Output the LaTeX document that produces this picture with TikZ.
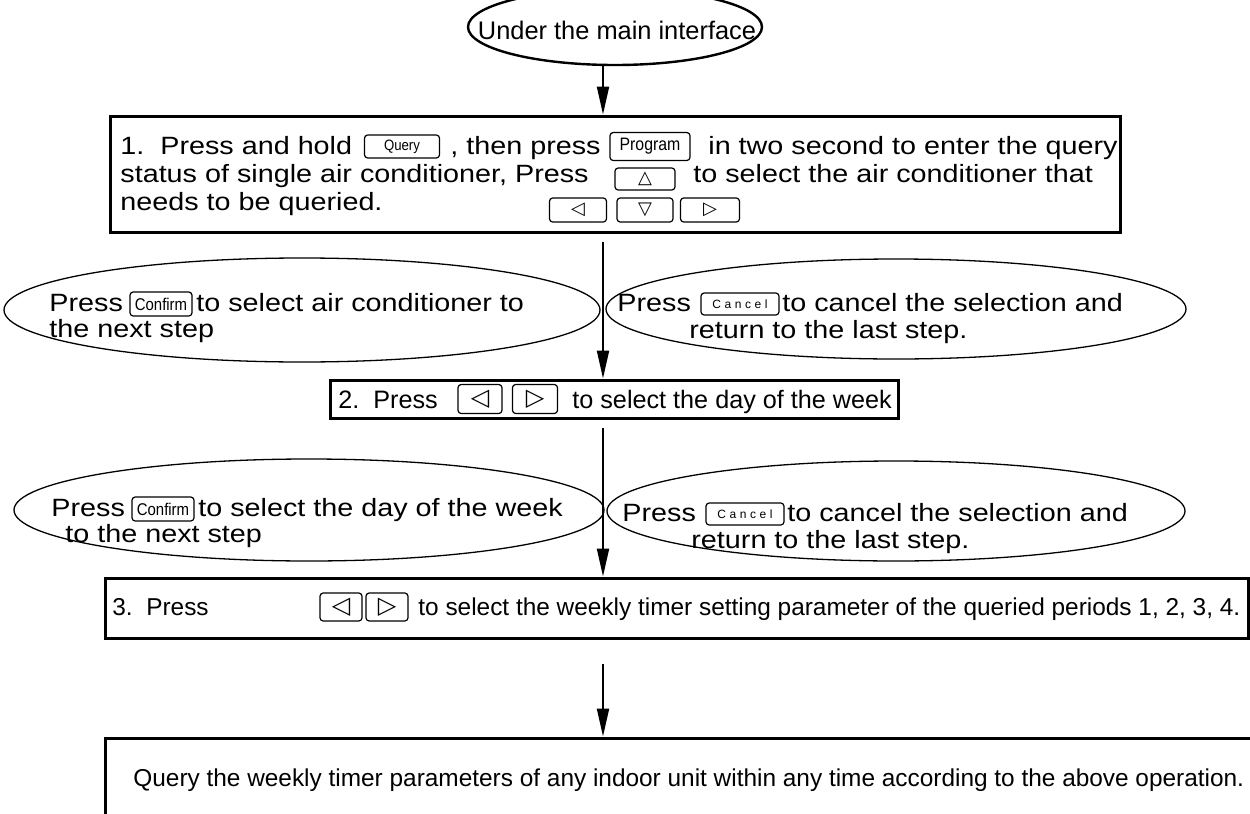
\documentclass[tikz,border=0pt]{standalone}
\usepackage{fontspec}
\setmainfont{Liberation Sans}
\newfontfamily\wideF[FakeStretch=1.15]{Liberation Sans}
\newfontfamily\condF[FakeStretch=0.88]{Liberation Sans}
\newfontfamily\symF{DejaVu Sans}
\usetikzlibrary{arrows.meta,shapes.geometric}
\begin{document}
\begin{tikzpicture}[x=0.5pt,y=-0.5pt,
  ell/.style={draw, ellipse, inner sep=0pt, line width=0.65pt},
  boxS/.style={draw, rectangle, inner sep=0pt, line width=1.5pt},
  btn/.style={draw, rounded corners=1.6pt, line width=0.6pt, inner sep=0pt},
  symbtn/.style={btn, font=\symF\fontsize{9}{10}\selectfont},
  cfbtn/.style={btn, minimum width=31pt, minimum height=12pt, font=\condF\fontsize{8.5}{9}\selectfont},
  cxbtn/.style={btn, minimum width=39pt, minimum height=11pt, font=\fontsize{6}{7}\selectfont\addfontfeature{LetterSpace=30}},
  wt/.style={anchor=base west, inner sep=0pt, font=\wideF\fontsize{12.5}{15}\selectfont},
  mt/.style={anchor=base west, inner sep=0pt, font=\fontsize{12.6}{15}\selectfont},
  nt/.style={anchor=base west, inner sep=0pt, font=\fontsize{12.2}{15}\selectfont},
  arr/.style={line width=1pt, -{Triangle[length=14pt,width=6pt]}},
]
\useasboundingbox (0,0) rectangle (1250,814);
\coordinate (sp) at (603,0);

% top ellipse
\node[ell, line width=1.2pt, minimum width=147pt, minimum height=38pt] (top) at (615,27) {};
\node[inner sep=0pt, font=\fontsize{12.7}{15}\selectfont] (toptxt) at (617,30) {Under the main interface};

% box 1
\node[boxS, minimum width=505pt, minimum height=58pt] (b1) at (615,174) {};
\node[wt] (t1a) at (120,154) {1.\ \ Press and hold};
\node[btn, minimum width=37.5pt, minimum height=11.5pt, font=\condF\fontsize{7.5}{8}\selectfont] (kq) at (402,146.5) {Query};
\node[wt] (t1b) at (450,154) {, then press};
\node[btn, minimum width=40pt, minimum height=14pt, font=\condF\fontsize{9}{10}\selectfont] (kp) at (650,146.5) {Program};
\node[wt] (t1c) at (708,154) {in two second to enter the query};
\node[wt] (t2a) at (120,182) {status of single air conditioner, Press};
\node[symbtn, minimum width=30pt, minimum height=11pt] (ku) at (645,179) {△};
\node[wt] (t2b) at (693,182) {to select the air conditioner that};
\node[wt] (t3a) at (120,210) {needs to be queried.};
\node[symbtn, minimum width=28.5pt, minimum height=12pt] (kl) at (578,210) {◁};
\node[symbtn, minimum width=28pt, minimum height=12pt] (kd) at (645,210) {▽};
\node[symbtn, minimum width=29.5pt, minimum height=12pt] (kr) at (710,210) {▷};

% ellipses row 1
\node[ell, minimum width=298pt, minimum height=52pt] (l1) at (302,310) {};
\node[ell, minimum width=290pt, minimum height=50pt] (r1) at (896,309) {};
\node[wt] (l1a) at (49,311) {Press};
\node[cfbtn] (kc1) at (161,304) {Confirm};
\node[wt] (l1b) at (196,311) {to select air conditioner to};
\node[wt] (l1c) at (49,337) {the next step};
\node[wt] (r1a) at (617,311) {Press};
\node[cxbtn] (kx1) at (740,304) {Cancel};
\node[wt] (r1b) at (782,311) {to cancel the selection and};
\node[wt] (r1c) at (689,338) {return to the last step.};

% box 2
\node[boxS, minimum width=284pt, minimum height=19pt] (b2) at (614,399) {};
\node[mt] (t4a) at (338,408) {2.\ \ Press};
\node[symbtn, minimum width=22pt, minimum height=14.5pt, font=\symF\fontsize{12}{12}\selectfont] (kl2) at (480,399) {◁};
\node[symbtn, minimum width=22.5pt, minimum height=14.5pt, font=\symF\fontsize{12}{12}\selectfont] (kr2) at (535,399) {▷};
\node[mt] (t4b) at (572,408) {to select the day of the week};

% ellipses row 2
\node[ell, minimum width=295pt, minimum height=51pt] (l2) at (309,510) {};
\node[ell, minimum width=289pt, minimum height=50pt] (r2) at (896,511) {};
\node[wt] (l2a) at (51,516) {Press};
\node[cfbtn] (kc2) at (163,509) {Confirm};
\node[wt] (l2b) at (198,516) {to select the day of the week};
\node[wt] (l2c) at (65,542) {to the next step};
\node[wt] (r2a) at (622,521) {Press};
\node[cxbtn] (kx2) at (745,514) {Cancel};
\node[wt] (r2b) at (787,521) {to cancel the selection and};
\node[wt] (r2c) at (691,548) {return to the last step.};

% box 3
\node[boxS, minimum width=571.5pt, minimum height=30pt] (b3) at (676.5,608) {};
\node[nt] (t5a) at (112,615) {3.\ \ Press};
\node[symbtn, minimum width=21pt, minimum height=14pt, font=\symF\fontsize{12}{12}\selectfont] (kl3) at (341,607) {◁};
\node[symbtn, minimum width=21pt, minimum height=14pt, font=\symF\fontsize{12}{12}\selectfont] (kr3) at (387,607) {▷};
\node[nt] (t5b) at (418,615) {to select the weekly timer setting parameter of the queried periods 1, 2, 3, 4.};

% box 4
\node[boxS, minimum width=582.5pt, minimum height=56pt] (b4) at (687.5,794) {};
\node[nt] (t6) at (133,786) {Query the weekly timer parameters of any indoor unit within any time according to the above operation.};

% connectors
\draw[arr] (top.south -| sp) -- (b1.north -| sp);
\draw[arr, shorten <=4pt] (b1.south -| sp) -- (b2.north -| sp);
\draw[arr, shorten <=4pt] (b2.south -| sp) -- (b3.north -| sp);
\draw[arr, shorten <=12pt] (b3.south -| sp) -- (b4.north -| sp);
\end{tikzpicture}
\end{document}
